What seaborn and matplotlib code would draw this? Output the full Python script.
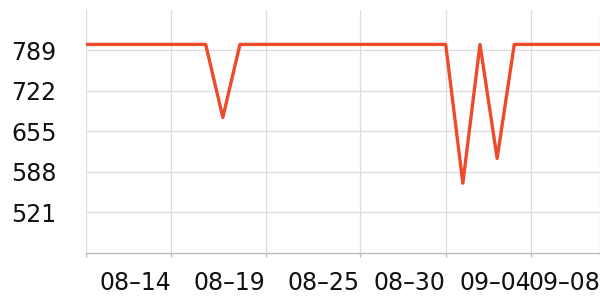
import matplotlib
matplotlib.use("Agg")
import matplotlib.pyplot as plt
import seaborn as sns
import pandas as pd

dates = ["2024-08-09", "2024-08-10", "2024-08-11", "2024-08-12", "2024-08-13",
         "2024-08-14", "2024-08-15", "2024-08-16", "2024-08-17", "2024-08-18",
         "2024-08-19", "2024-08-20", "2024-08-21", "2024-08-22", "2024-08-23",
         "2024-08-24", "2024-08-25", "2024-08-26", "2024-08-27", "2024-08-28",
         "2024-08-29", "2024-08-30", "2024-08-31", "2024-09-01", "2024-09-02",
         "2024-09-03", "2024-09-04", "2024-09-05", "2024-09-06", "2024-09-07",
         "2024-09-08"]
values = [799, 799, 799, 799, 799, 799, 799, 799, 678, 799,
          799, 799, 799, 799, 799, 799, 799, 799, 799, 799,
          799, 799, 569, 799, 610, 799, 799, 799, 799, 799,
          799]
tick_dates = ["2024-08-09 00:00", "2024-08-14 00:00", "2024-08-19 12:00",
              "2024-08-25 00:00", "2024-08-30 00:00", "2024-09-04 00:00",
              "2024-09-08 00:00"]
tick_labels = ["", "08–14", "08–19", "08–25", "08–30", "09–04", "09–08"]
y_ticks = [521, 588, 655, 722, 789]

df = pd.DataFrame({"date": pd.to_datetime(dates), "value": values})

sns.set_theme(style="white")
plt.rcParams['font.family'] = ['DejaVu Sans']

fig = plt.figure(figsize=(6, 3), dpi=100)
ax = fig.add_axes([0.1428, 0.158, 0.8572, 0.8087])

sns.lineplot(data=df, x="date", y="value", ax=ax, color="#ee4b2b", linewidth=2.4)

ax.set_xlim(pd.Timestamp(dates[0]), pd.Timestamp(dates[-1]))
ax.set_ylim(454, 856)
ax.set_yticks(y_ticks)
ax.set_yticklabels([str(v) for v in y_ticks])
ax.set_xticks(pd.to_datetime(tick_dates, format="%Y-%m-%d %H:%M"))
ax.set_xticklabels(tick_labels, ha="right")

ax.grid(True, color="#dddddd", linewidth=0.9)
ax.set_axisbelow(True)
for s in ["top", "right", "left"]:
    ax.spines[s].set_visible(False)
ax.spines["bottom"].set_color("#bbbbbb")
ax.spines["bottom"].set_linewidth(1.0)

ax.tick_params(axis="y", length=0, pad=21, labelsize=17, labelcolor="#111111")
ax.tick_params(axis="x", length=3, width=0.9, color="#bbbbbb", pad=10,
               labelsize=17, labelcolor="#111111", bottom=True)
ax.set_xlabel("")
ax.set_ylabel("")

fig.savefig("out.png", dpi=100)
